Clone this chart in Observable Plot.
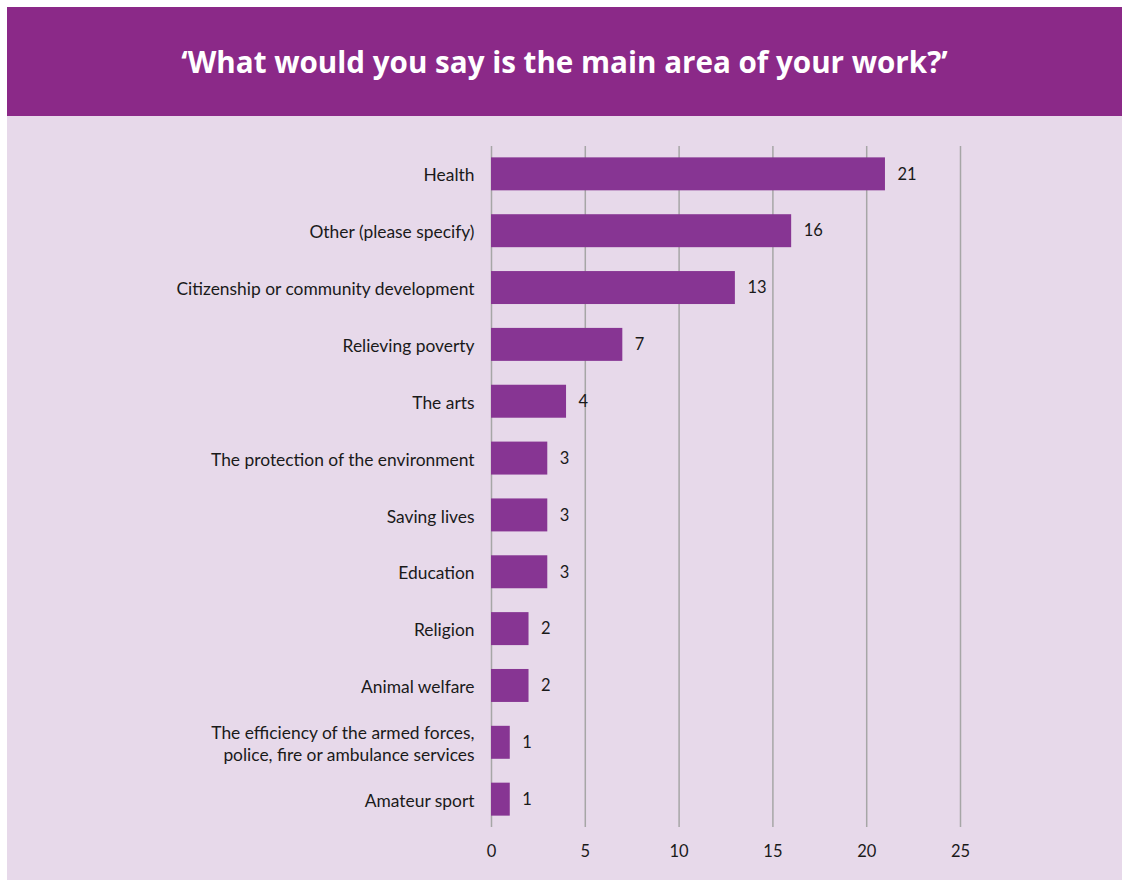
<!DOCTYPE html>
<html>
<head>
<meta charset="utf-8">
<script src="https://cdn.jsdelivr.net/npm/d3@7"></script>
<script src="https://cdn.jsdelivr.net/npm/@observablehq/plot@0.6"></script>
<style>
  html, body { margin: 0; padding: 0; background: #ffffff; width: 1122px; height: 880px; overflow: hidden; }
  #header { position: absolute; left: 7px; top: 7px; width: 1115px; height: 109px; background: #8B2988;
    color: #fff; font-family: "Open Sans", Lato, sans-serif; font-weight: 700; font-size: 29.6px;
    display: flex; align-items: center; justify-content: center; box-sizing: border-box; padding-bottom: 1px; }
  #panel { position: absolute; left: 7px; top: 116px; width: 1115px; height: 764px; background: #E7D9EA; }
  #chart { position: absolute; left: 0px; top: 116px; }
  #chart svg { background: transparent; }
</style>
</head>
<body>
<div id="header">‘What would you say is the main area of your work?’</div>
<div id="panel"></div>
<div id="chart"></div>
<script>
const categories = [
  "Health",
  "Other (please specify)",
  "Citizenship or community development",
  "Relieving poverty",
  "The arts",
  "The protection of the environment",
  "Saving lives",
  "Education",
  "Religion",
  "Animal welfare",
  "The efficiency of the armed forces,\npolice, fire or ambulance services",
  "Amateur sport"
];
const values = [21, 16, 13, 7, 4, 3, 3, 3, 2, 2, 1, 1];
const xTicks = [0, 5, 10, 15, 20, 25];

const data = categories.map((c, i) => ({category: c, value: values[i]}));

const chart = Plot.plot({
  width: 1122,
  height: 764,
  marginLeft: 491,
  marginRight: 162,
  marginTop: 30,
  marginBottom: 53,
  style: { fontFamily: "Lato, 'Open Sans', sans-serif", fontSize: "17px", color: "#1a1a1a", background: "transparent" },
  x: { domain: [0, 25], ticks: xTicks, label: null },
  y: { domain: categories, paddingInner: 0.42, paddingOuter: 0.2, round: false, label: null },
  marks: [
    Plot.ruleX(xTicks, { stroke: "#a6a6a6", strokeWidth: 1.5 }),
    Plot.barX(data, { x: "value", y: "category", fill: "#873593" }),
    Plot.text(data, { x: "value", y: "category", text: d => String(d.value), textAnchor: "start", dx: 12, fontSize: 16.5, fill: "#1a1a1a" }),
    Plot.axisX({ ticks: xTicks, tickSize: 0, tickPadding: 18, fontSize: 16.5, fill: "#1a1a1a", label: null }),
    Plot.axisY({ tickSize: 0, tickPadding: 17, fontSize: 17.4, fill: "#1a1a1a", lineHeight: 1.27, label: null })
  ]
});
document.getElementById("chart").appendChild(chart);
</script>
</body>
</html>
